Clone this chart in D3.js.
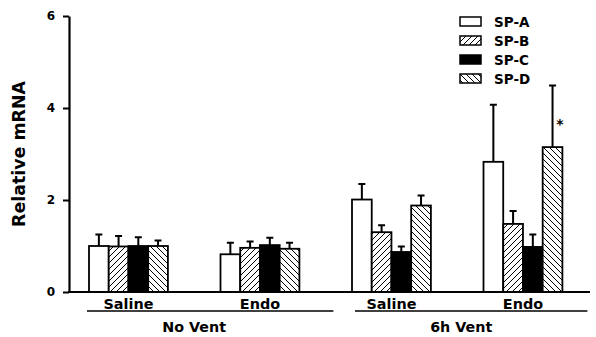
<!DOCTYPE html>
<html>
<head>
<meta charset="utf-8">
<script src="https://cdn.jsdelivr.net/npm/d3@7"></script>
<style>
  body { margin: 0; background: #fff; }
  text { font-family: "DejaVu Sans", sans-serif; font-weight: bold; fill: #000; }
</style>
</head>
<body>
<script>
// data
var groups = ["Saline", "Endo", "Saline", "Endo"];
var conditions = ["No Vent", "6h Vent"];
var series = ["SP-A", "SP-B", "SP-C", "SP-D"];
var spA = [1.00, 0.82, 2.01, 2.83];
var spB = [0.99, 0.96, 1.30, 1.48];
var spC = [1.00, 1.02, 0.87, 0.98];
var spD = [1.00, 0.94, 1.88, 3.15];
// upper error (SE)
var errA = [0.25, 0.25, 0.34, 1.24];
var errB = [0.23, 0.14, 0.15, 0.28];
var errC = [0.19, 0.16, 0.12, 0.27];
var errD = [0.12, 0.13, 0.22, 1.34];
var yTicks = [0, 2, 4, 6];

var width = 596, height = 337;
var svg = d3.select('body').append('svg').attr("width", width).attr("height", height);

var defs = svg.append('defs');
function hatch(id, dir) {
    var p = defs.append('pattern').attr('id', id)
        .attr('patternUnits', 'userSpaceOnUse').attr('width', 6).attr('height', 6);
    p.append('rect').attr('width', 6).attr('height', 6).attr('fill', '#fff');
    var d = dir > 0 ? "M-1,1 L1,-1 M0,6 L6,0 M5,7 L7,5" : "M-1,5 L1,7 M0,0 L6,6 M5,-1 L7,1";
    p.append('path').attr('d', d).attr('stroke', '#000').attr('stroke-width', 1);
}
hatch('hatchB', 1);
hatch('hatchD', -1);
var fills = ["#fff", "url(#hatchB)", "#000", "url(#hatchD)"];

var means = [spA, spB, spC, spD];
var errs = [errA, errB, errC, errD];

var y = d3.scaleLinear().domain([0, 6]).range([292, 16]);
var x = d3.scaleBand().domain(d3.range(groups.length)).range([62.7, 588.7])
    .paddingInner(0.4).paddingOuter(0.2);
var xs = d3.scaleBand().domain(series).range([0, x.bandwidth()]);

// y axis
var yAxis = svg.append('g').attr('transform', 'translate(69,0)')
    .call(d3.axisLeft(y).tickValues(yTicks).tickFormat(d3.format('d'))
        .tickSize(6).tickSizeOuter(0).tickPadding(8));
yAxis.select('.domain').attr('stroke-width', 2.2);
yAxis.selectAll('.tick line').attr('stroke-width', 2);
yAxis.selectAll('.tick text').style('font-size', '12px').style('font-family', '"DejaVu Sans", sans-serif')
    .style('font-weight', 'bold').attr('fill', '#000');

svg.append('text').text('Relative mRNA')
    .attr('transform', 'translate(25,154) rotate(-90)')
    .attr('text-anchor', 'middle').style('font-size', '17.4px');

// bars
var cells = [];
series.forEach(function(s, si) {
    groups.forEach(function(g, gi) {
        cells.push({s: s, si: si, gi: gi, v: means[si][gi], e: errs[si][gi]});
    });
});

var bars = svg.append('g');
// error bars first (upper only)
bars.selectAll('.err').data(cells).enter().append('path')
    .attr('class', 'err')
    .attr('d', function(d) {
        var cx = x(d.gi) + xs(d.s) + xs.bandwidth() / 2;
        var top = y(d.v + d.e);
        return "M" + cx + "," + y(d.v) + " V" + top + " M" + (cx - 3.5) + "," + top + " H" + (cx + 3.5);
    })
    .attr('stroke', '#000').attr('stroke-width', 2).attr('fill', 'none');

bars.selectAll('.bar').data(cells).enter().append('rect')
    .attr('class', 'bar')
    .attr('x', function(d) { return x(d.gi) + xs(d.s); })
    .attr('y', function(d) { return y(d.v); })
    .attr('width', xs.bandwidth())
    .attr('height', function(d) { return y(0) - y(d.v); })
    .attr('fill', function(d) { return fills[d.si]; })
    .attr('stroke', '#000').attr('stroke-width', 1.8);

// baseline
svg.append('line').attr('x1', 68).attr('x2', 590).attr('y1', y(0)).attr('y2', y(0))
    .attr('stroke', '#000').attr('stroke-width', 1.8);

// significance mark
svg.append('text').text('*')
    .attr('x', x(3) + xs('SP-D') + xs.bandwidth() / 2 + 7.5)
    .attr('y', y(spD[3] + errD[3]) + 44)
    .attr('text-anchor', 'middle').style('font-size', '14px');

// group labels
svg.selectAll('.glab').data(groups).enter().append('text')
    .attr('class', 'glab').text(function(d) { return d; })
    .attr('x', function(d, i) { return x(i) + x.bandwidth() / 2; })
    .attr('y', 308.5).attr('text-anchor', 'middle').style('font-size', '14.4px');

// condition lines and labels
conditions.forEach(function(c, ci) {
    var g0 = ci * 2, g1 = ci * 2 + 1;
    svg.append('line')
        .attr('x1', x(g0) + (ci === 0 ? -2 : 3)).attr('x2', x(g1) + x.bandwidth() + (ci === 0 ? 34 : 25))
        .attr('y1', 311).attr('y2', 311).attr('stroke', '#000').attr('stroke-width', 1.3);
    svg.append('text').text(c)
        .attr('x', (x(g0) + x(g1) + x.bandwidth()) / 2 + (ci === 0 ? 0 : 4))
        .attr('y', 331.5).attr('text-anchor', 'middle').style('font-size', '14.3px');
});

// legend
var legend = svg.append('g').attr('transform', 'translate(460,17)');
var items = legend.selectAll('g').data(series).enter().append('g')
    .attr('transform', function(d, i) { return 'translate(0,' + (i * 19) + ')'; });
items.append('rect').attr('width', 21).attr('height', 9)
    .attr('fill', function(d, i) { return fills[i]; })
    .attr('stroke', '#000').attr('stroke-width', 1.5);
items.append('text').text(function(d) { return d; })
    .attr('x', 34).attr('y', 10).style('font-size', '13.5px');
</script>
</body>
</html>
